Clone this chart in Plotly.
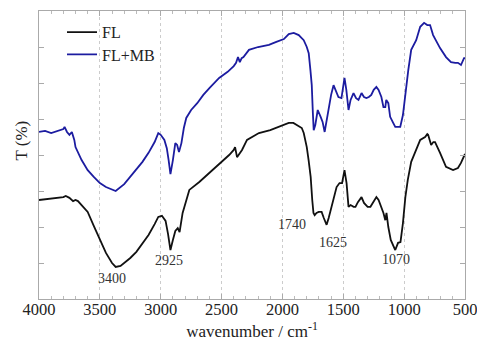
import plotly.graph_objects as go

# FL (black) spectrum
fl_wn = [4000, 3900, 3800, 3780, 3750, 3720, 3700, 3680, 3650, 3600, 3550, 3500, 3450, 3400, 3370, 3330,
         3300, 3250, 3200, 3150, 3100, 3050, 3020, 2990, 2960, 2940, 2920, 2900, 2880, 2860, 2845, 2820,
         2780, 2765, 2683, 2545, 2438, 2400, 2389, 2373, 2350, 2332, 2291, 2193, 2100, 2054, 1990, 1948,
         1910, 1882, 1841, 1825, 1800, 1785, 1768, 1755, 1745, 1735, 1720, 1702, 1678, 1660, 1637, 1620,
         1596, 1575, 1555, 1531, 1510, 1490, 1473, 1457, 1440, 1415, 1400, 1380, 1350, 1330, 1300, 1277,
         1250, 1228, 1210, 1187, 1170, 1155, 1145, 1130, 1110, 1073, 1050, 1030, 1010, 990, 970, 942,
         901, 868, 828, 810, 803, 790, 778, 760, 746, 705, 656, 598, 558, 533, 508, 500]
fl_t = [2.75, 2.78, 2.83, 2.86, 2.81, 2.72, 2.75, 2.72, 2.61, 2.42, 2.03, 1.64, 1.28, 1.00, 0.89, 0.92,
        1.00, 1.14, 1.31, 1.53, 1.78, 2.08, 2.28, 2.31, 2.17, 1.81, 1.36, 1.64, 1.89, 1.97, 1.86, 2.39,
        2.89, 3.03, 3.25, 3.67, 4.00, 4.14, 4.22, 3.94, 4.06, 4.14, 4.42, 4.61, 4.69, 4.75, 4.83, 4.89,
        4.89, 4.83, 4.75, 4.61, 4.22, 3.86, 3.39, 2.75, 2.39, 2.33, 2.39, 2.42, 2.42, 2.25, 2.06, 2.25,
        2.56, 2.89, 3.11, 3.22, 3.22, 3.58, 3.22, 2.56, 2.61, 2.56, 2.56, 2.69, 2.83, 2.67, 2.56, 2.56,
        2.69, 2.83, 2.75, 2.56, 2.39, 2.19, 2.39, 2.00, 1.64, 1.36, 1.56, 1.58, 2.11, 2.83, 3.31, 3.81,
        4.14, 4.42, 4.50, 4.58, 4.56, 4.42, 4.28, 4.36, 4.36, 4.06, 3.67, 3.58, 3.64, 3.78, 3.94, 4.03]

# FL+MB (blue) spectrum
mb_wn = [4000, 3950, 3900, 3850, 3800, 3790, 3770, 3750, 3730, 3710, 3700, 3650, 3600, 3550, 3500, 3450,
         3400, 3370, 3300, 3250, 3200, 3150, 3100, 3050, 3020, 3000, 2970, 2950, 2935, 2920, 2900, 2880,
         2865, 2850, 2830, 2810, 2790, 2750, 2700, 2650, 2600, 2520, 2450, 2400, 2381, 2365, 2350, 2335,
         2320, 2275, 2200, 2111, 2050, 1988, 1948, 1907, 1866, 1825, 1800, 1784, 1770, 1759, 1750, 1743,
         1730, 1710, 1686, 1670, 1653, 1640, 1620, 1600, 1580, 1560, 1540, 1515, 1500, 1490, 1475, 1457,
         1440, 1416, 1395, 1375, 1350, 1330, 1310, 1290, 1270, 1250, 1228, 1210, 1187, 1170, 1155, 1147,
         1130, 1115, 1090, 1073, 1050, 1032, 1010, 991, 966, 942, 901, 868, 836, 810, 787, 762,
         735, 705, 656, 615, 580, 558, 533, 508, 500]
mb_t = [4.64, 4.67, 4.61, 4.67, 4.72, 4.78, 4.64, 4.56, 4.64, 4.42, 4.22, 3.86, 3.58, 3.39, 3.22, 3.11,
        3.03, 3.00, 3.19, 3.39, 3.58, 3.81, 4.06, 4.36, 4.61, 4.56, 4.42, 4.19, 3.86, 3.47, 3.86, 4.33,
        4.28, 4.08, 4.33, 4.75, 5.03, 5.25, 5.44, 5.67, 5.86, 6.14, 6.31, 6.47, 6.56, 6.72, 6.58, 6.69,
        6.72, 6.92, 7.00, 7.06, 7.14, 7.22, 7.36, 7.39, 7.33, 7.19, 7.00, 6.83, 6.36, 5.94, 5.17, 4.69,
        4.83, 5.25, 5.06, 4.92, 4.64, 4.92, 5.25, 5.67, 5.94, 5.75, 5.61, 5.58, 5.86, 6.14, 5.81, 5.25,
        5.53, 5.72, 5.58, 5.53, 5.72, 5.61, 5.58, 5.61, 5.67, 5.81, 5.89, 5.81, 5.61, 5.33, 5.33, 5.53,
        5.44, 5.06, 4.89, 4.78, 4.78, 4.78, 5.11, 5.72, 6.36, 6.92, 7.19, 7.56, 7.67, 7.61, 7.61, 7.33,
        7.14, 6.97, 6.72, 6.58, 6.56, 6.56, 6.50, 6.69, 6.69]

# peak labels
peak_text = ["3400", "2925", "1740", "1625", "1070"]
peak_x = [3403, 2929, 1923, 1588, 1065]
peak_y = [0.56, 1.08, 2.06, 1.58, 1.11]

x_ticks = [4000, 3500, 3000, 2500, 2000, 1500, 1000, 500]

SERIF = "Liberation Serif"
leg_font = dict(family=SERIF, size=16, color="#222222")

fig = go.Figure()
fig.add_trace(go.Scatter(x=fl_wn, y=fl_t, mode="lines", name="FL", legend="legend",
                         line=dict(color="#111111", width=1.8)))
fig.add_trace(go.Scatter(x=mb_wn, y=mb_t, mode="lines", name="FL+MB", legend="legend2",
                         line=dict(color="#1c1ca0", width=1.8)))

for t, x, y in zip(peak_text, peak_x, peak_y):
    fig.add_annotation(x=x, y=y, text=t, showarrow=False,
                       font=dict(family=SERIF, size=14, color="#333333"))

fig.add_annotation(xref="paper", yref="paper", x=-0.04, y=0.55, text="T (%)",
                   textangle=-90, showarrow=False, xanchor="center", yanchor="middle",
                   font=dict(family=SERIF, size=17, color="#222222"))

# white legend box covering gridlines
fig.add_shape(type="rect", xref="paper", yref="paper", x0=0.004, x1=0.40, y0=0.80, y1=0.996,
              fillcolor="white", line=dict(width=0), layer="between")

fig.update_layout(
    width=477, height=344,
    margin=dict(l=39, r=12, t=11, b=45),
    paper_bgcolor="white", plot_bgcolor="white",
    font=dict(family=SERIF, size=16, color="#222222"),
    showlegend=True,
    legend=dict(x=0.054, y=0.985, xanchor="left", yanchor="top",
                bgcolor="rgba(0,0,0,0)", font=leg_font, itemwidth=30),
    legend2=dict(x=0.054, y=0.908, xanchor="left", yanchor="top",
                 bgcolor="rgba(0,0,0,0)", font=leg_font, itemwidth=30),
    xaxis=dict(range=[4000, 500], tickvals=x_ticks, ticktext=[str(v) for v in x_ticks],
               automargin=False, ticklabeloverflow="allow",
               ticks="inside", ticklen=5, tickcolor="#aaaaaa", ticklabelstandoff=-5,
               minor=dict(dtick=100, ticks="inside", ticklen=3, tickcolor="#bbbbbb", showgrid=False),
               showline=True, linecolor="#aaaaaa", linewidth=1, mirror="allticks",
               showgrid=True, gridcolor="#cccccc", griddash="dot", gridwidth=1,
               zeroline=False,
               tickfont=dict(family=SERIF, size=16.5, color="#222222"),
               title=dict(text="wavenumber / cm<sup>-1</sup>",
                          font=dict(family=SERIF, size=17, color="#222222"), standoff=3)),
    yaxis=dict(range=[0, 8], dtick=1, ticks="inside", ticklen=5, tickcolor="#aaaaaa",
               automargin=False,
               showticklabels=False, showline=True, linecolor="#aaaaaa", linewidth=1,
               mirror="allticks", showgrid=False, zeroline=False),
)

fig.write_html("out.html", config={"displayModeBar": False},
               post_script="document.body.style.margin='0px';")
